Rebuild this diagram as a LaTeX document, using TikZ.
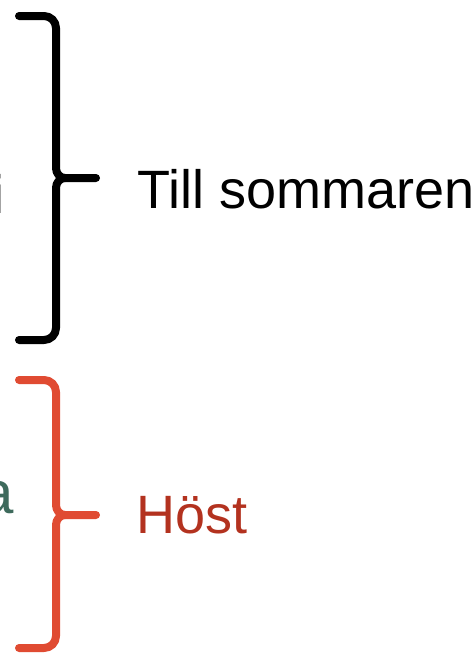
\documentclass[tikz,border=0pt]{standalone}
\usepackage{fontspec}
\setmainfont{Liberation Sans}
\usetikzlibrary{positioning}
\definecolor{braceRed}{HTML}{E04B32}
\definecolor{textRed}{HTML}{B3321F}
\definecolor{textTeal}{HTML}{3E6A5C}

\begin{document}
\begin{tikzpicture}[x=1pt, y=-1pt,
    brace/.style={line width=8pt, line cap=round, line join=round,
        preaction={draw=black, opacity=0.18, transform canvas={shift={(1.5pt,-2.5pt)}}}},
    bigtext/.style={inner sep=0pt, anchor=base west, font=\fontsize{54}{60}\selectfont}]
    \useasboundingbox (0,0) rectangle (473,656);

    % Define text nodes (the left ones are cut by the page edge)
    \node (restI) [bigtext, anchor=base east] at (4.5,213) {i};
    \node (restA) [bigtext, anchor=base east, textTeal, font=\fontsize{60}{66}\selectfont] at (14,513) {a};
    \node (till) [bigtext] at (137,208) {Till sommaren};
    \node (host) [bigtext, textRed] at (136,533) {Höst};

    % Tips of the braces
    \coordinate (tillTip) at (96,178);
    \coordinate (hostTip) at (96,515);

    % Draw the black brace
    \draw[brace, black] (19,16) -- (44,16) to[out=0,in=90] (56,28) -- (56,168)
        to[out=-90,in=180] (65,178) -- (tillTip);
    \draw[brace, black] (65,178) to[out=180,in=90] (56,188) -- (56,328)
        to[out=-90,in=0] (44,340) -- (19,340);

    % Draw the red brace
    \draw[brace, braceRed] (19,380) -- (44,380) to[out=0,in=90] (56,392) -- (56,505)
        to[out=-90,in=180] (65,515) -- (hostTip);
    \draw[brace, braceRed] (65,515) to[out=180,in=90] (56,525) -- (56,636)
        to[out=-90,in=0] (44,648) -- (19,648);

\end{tikzpicture}
\end{document}
